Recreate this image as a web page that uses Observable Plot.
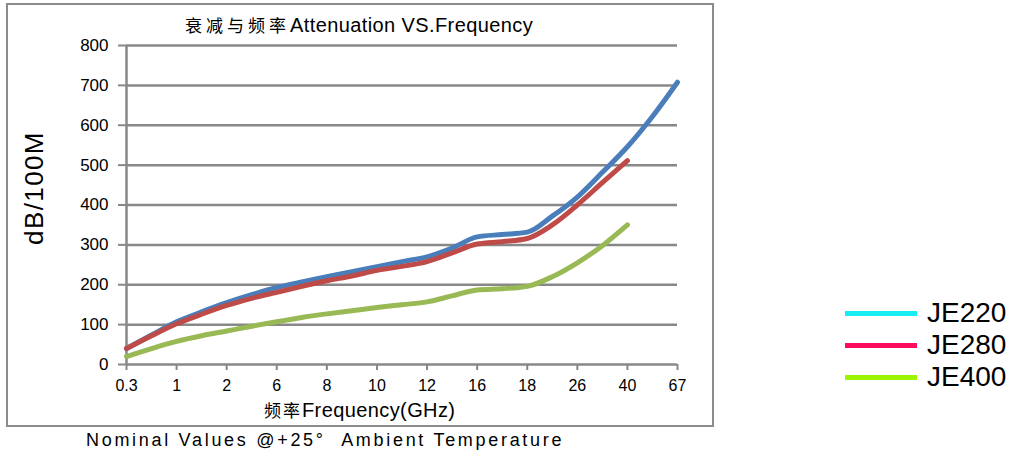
<!DOCTYPE html>
<html>
<head>
<meta charset="utf-8">
<script src="https://cdn.jsdelivr.net/npm/d3@7"></script>
<script src="https://cdn.jsdelivr.net/npm/@observablehq/plot@0.6"></script>
<style>
  body { margin: 0; background: #fff; }
  #wrap { position: relative; width: 1025px; height: 457px; overflow: hidden; font-family: "Liberation Sans", Arial, sans-serif; color: #000; }
  #chart { position: absolute; left: 0; top: 0; }
  .frame { position: absolute; left: 6px; top: 3px; width: 704px; height: 420px; border: 2px solid #8c8c8c; }
  .txt { position: absolute; white-space: nowrap; }
  .cjk { font-family: "Noto Sans CJK SC", sans-serif; }
  .leg-line { position: absolute; height: 5px; width: 72px; left: 845px; }
  .leg-lab { position: absolute; left: 927px; font-size: 28px; line-height: 28px; }
</style>
</head>
<body>
<div id="wrap">
  <div class="frame"></div>
  <div id="chart"></div>
  <div class="txt" style="left:185px;top:12px;font-size:20px;line-height:26px;letter-spacing:0.4px;"><span class="cjk" style="font-size:17px;letter-spacing:4px;">衰减与频率</span>Attenuation VS.Frequency</div>
  <div class="txt" style="left:34px;top:188px;transform:translate(-50%,-50%) rotate(-90deg);font-size:26px;letter-spacing:1.4px;">dB/100M</div>
  <div class="txt" style="left:264px;top:398px;font-size:20px;line-height:24px;letter-spacing:0.4px;"><span class="cjk" style="font-size:17px;letter-spacing:2px;">频率</span>Frequency(GHz)</div>
  <div class="txt" style="left:86px;top:430px;font-size:18px;letter-spacing:2.7px;">Nominal Values @+25°&nbsp;&nbsp;Ambient Temperature</div>
  <div id="legend"></div>
</div>
<script>
// Category tick labels (x axis), placed at positions 0..11
const freqLabels = ["0.3", "1", "2", "6", "8", "10", "12", "16", "18", "26", "40", "67"];
const xTicks = [0, 1, 2, 3, 4, 5, 6, 7, 8, 9, 10, 11];
const yTicks = [0, 100, 200, 300, 400, 500, 600, 700, 800];

// Sample positions along the category axis
const xPos220 = [0, 0.5, 1, 1.5, 2, 2.5, 3, 3.5, 4, 4.5, 5, 5.5, 6, 6.5, 7, 7.5, 8, 8.5, 9, 9.5, 10, 10.5, 11];
const xPos280 = [0, 0.5, 1, 1.5, 2, 2.5, 3, 3.5, 4, 4.5, 5, 5.5, 6, 6.5, 7, 7.5, 8, 8.5, 9, 9.5, 10];
const xPos400 = [0, 0.5, 1, 1.5, 2, 2.5, 3, 3.5, 4, 4.5, 5, 5.5, 6, 6.5, 7, 7.5, 8, 8.5, 9, 9.5, 10];

// Attenuation dB/100M
const je220 = [40, 74, 107, 132, 155, 175, 193, 207, 220, 233, 245, 258, 270, 292, 320, 326, 332, 372, 420, 482, 546, 622, 708];
const je280 = [40, 72, 102, 126, 148, 166, 181, 196, 210, 222, 236, 246, 258, 280, 302, 308, 316, 350, 400, 456, 511];
const je400 = [20, 40, 58, 72, 84, 96, 107, 118, 127, 135, 143, 150, 157, 172, 187, 190, 196, 220, 255, 298, 350];

const seriesNames = ["JE220", "JE280", "JE400"];
const lineColors = ["#4a7ebb", "#be4b48", "#98b954"];
const legendColors = ["#18eef2", "#ff0a5c", "#9af500"];

const t220 = xPos220.map((x, i) => ({x, v: je220[i]}));
const t280 = xPos280.map((x, i) => ({x, v: je280[i]}));
const t400 = xPos400.map((x, i) => ({x, v: je400[i]}));

const gray = "#888888";
const chart = Plot.plot({
  width: 1025,
  height: 457,
  marginLeft: 126,
  marginRight: 348,
  marginTop: 45,
  marginBottom: 93,
  style: {fontFamily: '"Liberation Sans", Arial, sans-serif', fontSize: "16px", color: "#000", background: "transparent", overflow: "visible"},
  x: {domain: [0, 11]},
  y: {domain: [0, 800]},
  marks: [
    Plot.ruleY(yTicks.filter(d => d > 0), {stroke: gray, strokeWidth: 2.5}),
    Plot.axisY(yTicks, {tickSize: 8, tickPadding: 10, stroke: gray, strokeWidth: 2, fontSize: 17, label: null}),
    Plot.axisX(xTicks, {tickSize: 6, tickPadding: 9, stroke: gray, strokeWidth: 2, fontSize: 16, tickFormat: i => freqLabels[i], label: null}),
    Plot.ruleX([0], {stroke: gray, strokeWidth: 2.5}),
    Plot.ruleY([0], {stroke: gray, strokeWidth: 2.5}),
    Plot.line(t220, {x: "x", y: "v", stroke: lineColors[0], strokeWidth: 5, curve: "monotone-x"}),
    Plot.line(t280, {x: "x", y: "v", stroke: lineColors[1], strokeWidth: 5, curve: "monotone-x"}),
    Plot.line(t400, {x: "x", y: "v", stroke: lineColors[2], strokeWidth: 5, curve: "monotone-x"})
  ]
});
document.getElementById("chart").appendChild(chart);

const legend = document.getElementById("legend");
const legY = [313, 345, 377];
seriesNames.forEach((name, i) => {
  const ln = document.createElement("div");
  ln.className = "leg-line";
  ln.style.top = (legY[i] - 2.5) + "px";
  ln.style.background = legendColors[i];
  legend.appendChild(ln);
  const lb = document.createElement("div");
  lb.className = "txt leg-lab";
  lb.style.top = (legY[i] - 14) + "px";
  lb.textContent = name;
  legend.appendChild(lb);
});
</script>
</body>
</html>
